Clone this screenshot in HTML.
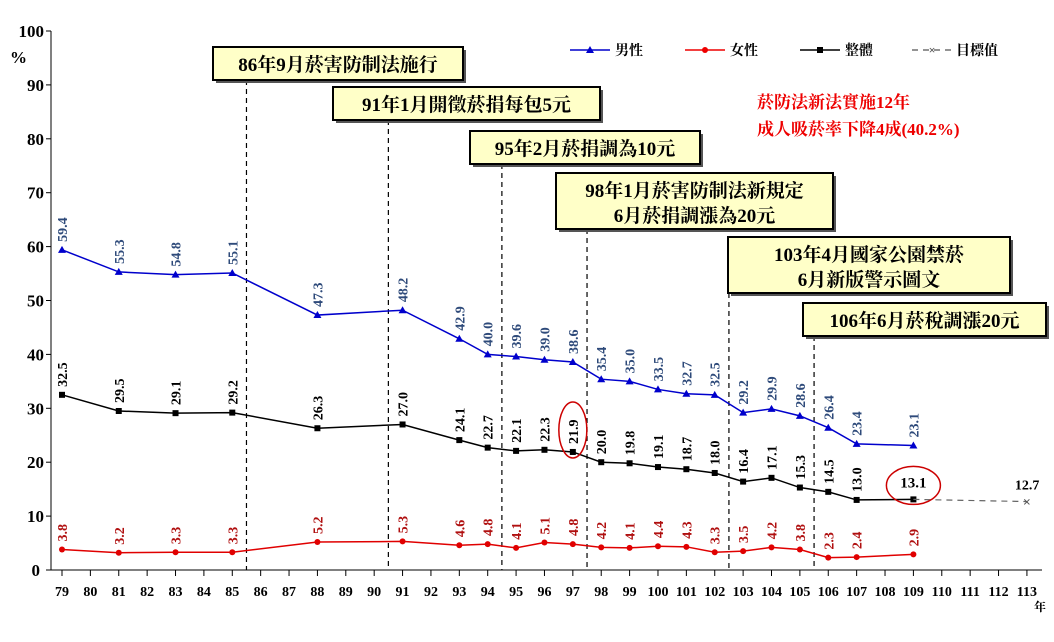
<!DOCTYPE html>
<html><head><meta charset="utf-8">
<style>
body{margin:0;background:#fff;width:1054px;height:637px;overflow:hidden}
svg text{font-family:"Liberation Serif","Noto Serif CJK SC","Noto Sans CJK TC",serif;font-weight:bold}
</style></head>
<body>
<svg id="chart" width="1054" height="637" viewBox="0 0 1054 637" xmlns="http://www.w3.org/2000/svg">
<g id="axes"></g><g id="events"></g><g id="series"></g>
<g font-size="14">
 <line x1="570" y1="50" x2="610" y2="50" stroke="#0000cc" stroke-width="1.5"/><polygon points="590,46 586,53 594,53" fill="#0000cc"/>
 <text x="615" y="55" font-weight="normal" fill="#000">男性</text>
 <line x1="685" y1="50" x2="725" y2="50" stroke="#e00" stroke-width="1.5"/><circle cx="705" cy="50" r="3" fill="#e00"/>
 <text x="730" y="55" font-weight="normal" fill="#000">女性</text>
 <line x1="800" y1="50" x2="840" y2="50" stroke="#000" stroke-width="1.5"/><rect x="817" y="47" width="6" height="6" fill="#000"/>
 <text x="845" y="55" font-weight="normal" fill="#000">整體</text>
 <line x1="912" y1="50" x2="952" y2="50" stroke="#555" stroke-width="1.2" stroke-dasharray="6,5"/><text x="932" y="54" text-anchor="middle" font-size="12" fill="#555">×</text>
 <text x="956" y="55" font-weight="normal" fill="#000">目標值</text>
</g>
<g fill="#e00" font-size="17">
 <text x="757" y="108">菸防法新法實施12年</text>
 <text x="757" y="135">成人吸菸率下降4成(40.2%)</text>
</g>
</svg>
<script>
const years=[79,81,83,85,88,91,93,94,95,96,97,98,99,100,101,102,103,104,105,106,107,109];
const male=[59.4,55.3,54.8,55.1,47.3,48.2,42.9,40.0,39.6,39.0,38.6,35.4,35.0,33.5,32.7,32.5,29.2,29.9,28.6,26.4,23.4,23.1];
const female=[3.8,3.2,3.3,3.3,5.2,5.3,4.6,4.8,4.1,5.1,4.8,4.2,4.1,4.4,4.3,3.3,3.5,4.2,3.8,2.3,2.4,2.9];
const total=[32.5,29.5,29.1,29.2,26.3,27.0,24.1,22.7,22.1,22.3,21.9,20.0,19.8,19.1,18.7,18.0,16.4,17.1,15.3,14.5,13.0,13.1];
const targetYears=[109,113];
const targetVals=[13.1,12.7];
const yTicks=[0,10,20,30,40,50,60,70,80,90,100];
const xLabels=[79,80,81,82,83,84,85,86,87,88,89,90,91,92,93,94,95,96,97,98,99,100,101,102,103,104,105,106,107,108,109,110,111,112,113];
const eventYears=[85.5,90.5,94.5,97.5,102.5,105.5];
const eventText=[["86年9月菸害防制法施行"],["91年1月開徵菸捐每包5元"],["95年2月菸捐調為10元"],["98年1月菸害防制法新規定","6月菸捐調漲為20元"],["103年4月國家公園禁菸","6月新版警示圖文"],["106年6月菸稅調漲20元"]];
const eventBoxes=[[213,47,250],[333,87,267],[470,131,230],[556,173,277],[728,237,282],[803,303,243]];

const NS="http://www.w3.org/2000/svg";
const X=v=>62+(v-79)*28.38;
const Y=v=>570-v*5.39;
function mk(tag,attrs,parent,txt){const e=document.createElementNS(NS,tag);for(const k in attrs)e.setAttribute(k,attrs[k]);if(txt!==undefined)e.textContent=txt;parent.appendChild(e);return e;}
const axes=document.getElementById('axes'),ev=document.getElementById('events'),se=document.getElementById('series');

let a=mk('line',{x1:51,y1:Y(100),x2:51,y2:570,stroke:'#000','stroke-width':1},axes);


a=mk('line',{x1:51,y1:570,x2:1042,y2:570,stroke:'#000','stroke-width':1},axes);


yTicks.forEach(t=>{
 mk('line',{x1:46,y1:Y(t),x2:51,y2:Y(t),stroke:'#000'},axes);
 const tx=mk('text',{x:t===0?40:44,y:Y(t)+6,'text-anchor':'end','font-size':17,fill:'#000'},axes,String(t));
 
 
});
let pc=mk('text',{x:10,y:63,'font-size':17,'font-weight':'normal'},axes,'%');


xLabels.forEach(l=>{
 mk('line',{x1:X(l),y1:570,x2:X(l),y2:576,stroke:'#000'},axes);
 const tx=mk('text',{x:X(l),y:596,'text-anchor':'middle','font-size':14,fill:'#000'},axes,String(l));
 
 
});
let yr=mk('text',{x:1034,y:611,'font-size':12,'font-weight':'normal'},axes,'年');



eventYears.forEach((ey,i)=>{
 const b=eventBoxes[i];const h=eventText[i].length===1?33:56;
 const ln=mk('line',{x1:X(ey),y1:b[1]+h,x2:X(ey),y2:570,stroke:'#000','stroke-width':1.2,'stroke-dasharray':'5,4'},ev);
 
 
 mk('rect',{x:b[0]+3,y:b[1]+3,width:b[2],height:h,fill:'#555'},ev);
 const r=mk('rect',{x:b[0],y:b[1],width:b[2],height:h,fill:'#ffffc8',stroke:'#000','stroke-width':2},ev);
 
 
 eventText[i].forEach((t,j)=>{
  const tx=mk('text',{x:b[0]+b[2]/2,y:b[1]+24+j*25,'text-anchor':'middle','font-size':19,fill:'#000'},ev,t);
  
  
 });
});

function series(vals,color,name,marker,labColor,skipLab){
 const pts=years.map((y,i)=>X(y)+','+Y(vals[i])).join(' ');
 const pl=mk('polyline',{points:pts,fill:'none',stroke:color,'stroke-width':1.5},se);
 
 
 years.forEach((y,i)=>{
  const cx=X(y),cy=Y(vals[i]);let m;
  if(marker==='tri')m=mk('polygon',{points:`${cx},${cy-4} ${cx-4},${cy+3} ${cx+4},${cy+3}`,fill:color},se);
  else if(marker==='dot')m=mk('circle',{cx:cx,cy:cy,r:3,fill:color},se);
  else m=mk('rect',{x:cx-3,y:cy-3,width:6,height:6,fill:color},se);
  
  
  if(skipLab&&skipLab(i))return;
  const tx=mk('text',{x:0,y:0,'font-size':14,fill:labColor,transform:`translate(${cx+5},${cy-8}) rotate(-90)`},se,vals[i].toFixed(1));
  
  
 });
}
series(male,'#0000cc','male','tri','#2e4a7a');
series(female,'#e00000','female','dot','#b01010');
const last=years.length-1;
series(total,'#000','total','sq','#000',i=>i===last);

const tp=targetYears.map((y,i)=>X(y)+','+Y(targetVals[i])).join(' ');
const tl=mk('polyline',{points:tp,fill:'none',stroke:'#666','stroke-width':1.2,'stroke-dasharray':'6,5'},se);


const tm=mk('text',{x:X(113),y:Y(12.7)+5,'text-anchor':'middle','font-size':14,fill:'#555','font-weight':'normal'},se,'×');


const tv=mk('text',{x:X(113)-12,y:Y(12.7)-12,'font-size':14,fill:'#000','font-weight':'normal'},se,targetVals[1].toFixed(1));


const lv=mk('text',{x:X(109),y:Y(total[last])-12,'text-anchor':'middle','font-size':15,fill:'#000'},se,total[last].toFixed(1));


const c1=mk('ellipse',{cx:X(109),cy:Y(total[last])-14,rx:27,ry:19,fill:'none',stroke:'#c00','stroke-width':1.5},se);


const i97=years.indexOf(97);
const c2=mk('ellipse',{cx:X(97),cy:Y(total[i97])-22,rx:14,ry:28,fill:'none',stroke:'#c00','stroke-width':1.5},se);


</script>
</body></html>
